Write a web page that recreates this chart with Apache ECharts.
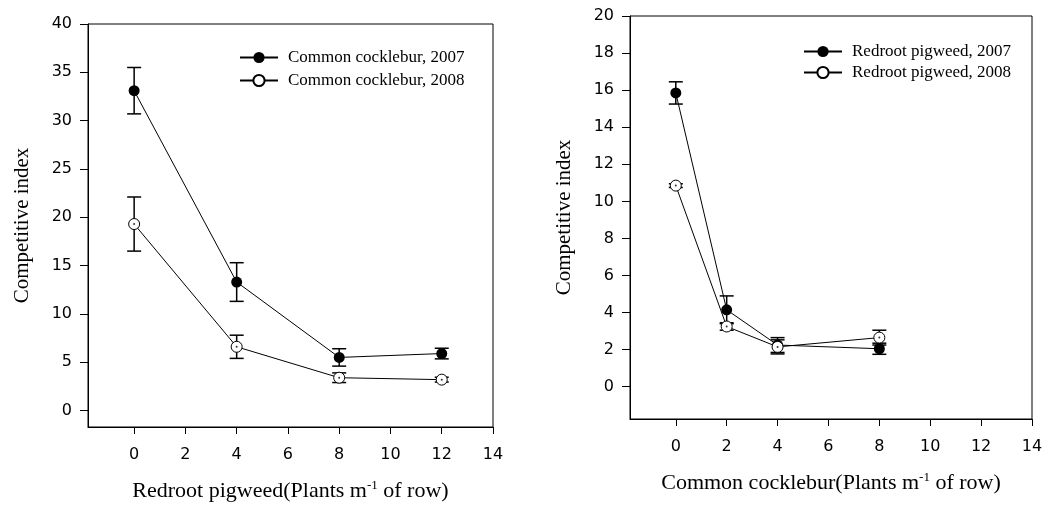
<!DOCTYPE html>
<html>
<head>
<meta charset="utf-8">
<script src="https://cdn.jsdelivr.net/npm/echarts@6/dist/echarts.min.js"></script>
<style>html,body{margin:0;padding:0;background:#fff}#c{width:1048px;height:508px}</style>
</head>
<body>
<div id="c"></div>
<script>
// ---- Data ----
const leftX = [0, 4, 8, 12];
const left2007 = [33.1, 13.3, 5.5, 5.9];
const left2007Err = [2.4, 2.0, 0.9, 0.55];
const left2008 = [19.3, 6.6, 3.4, 3.2];
const left2008Err = [2.8, 1.2, 0.5, 0.25];

const rightX = [0, 2, 4, 8];
const right2007 = [15.85, 4.15, 2.25, 2.05];
const right2007Err = [0.6, 0.75, 0.4, 0.3];
const right2008 = [10.85, 3.25, 2.15, 2.65];
const right2008Err = [0.1, 0.2, 0.38, 0.4];

const xTicks = [0, 2, 4, 6, 8, 10, 12, 14];
const leftYTicks = [0, 5, 10, 15, 20, 25, 30, 35, 40];
const rightYTicks = [0, 2, 4, 6, 8, 10, 12, 14, 16, 18, 20];

const leftNames = ['Common cocklebur, 2007', 'Common cocklebur, 2008'];
const rightNames = ['Redroot pigweed, 2007', 'Redroot pigweed, 2008'];
const yTitle = 'Competitive index';
const leftXTitle = 'Redroot pigweed(Plants m{sup|-1} of row)';
const rightXTitle = 'Common cocklebur(Plants m{sup|-1} of row)';

// ---- Helpers ----
const SERIF = '"Liberation Serif","Times New Roman",serif';
const SANS = '"DejaVu Sans",Arial,sans-serif';

function pairs(xs, ys) { return xs.map((x, i) => [x, ys[i]]); }

function errSeries(xs, ys, errs, ai) {
  return {
    type: 'custom', xAxisIndex: ai, yAxisIndex: ai, z: 1, silent: true,
    data: xs.map((x, i) => [x, ys[i] - errs[i], ys[i] + errs[i]]),
    encode: { x: 0, y: [1, 2] },
    renderItem: function (params, api) {
      const lo = api.coord([api.value(0), api.value(1)]);
      const hi = api.coord([api.value(0), api.value(2)]);
      const hw = 7;
      const st = { stroke: '#000', lineWidth: 1.5 };
      return { type: 'group', children: [
        { type: 'line', shape: { x1: lo[0], y1: lo[1], x2: hi[0], y2: hi[1] }, style: st },
        { type: 'line', shape: { x1: lo[0] - hw, y1: lo[1], x2: lo[0] + hw, y2: lo[1] }, style: st },
        { type: 'line', shape: { x1: hi[0] - hw, y1: hi[1], x2: hi[0] + hw, y2: hi[1] }, style: st }
      ]};
    }
  };
}

function lineSeries(name, xs, ys, ai, filled, z) {
  return {
    name: name, type: 'line', xAxisIndex: ai, yAxisIndex: ai, z: z,
    data: pairs(xs, ys), symbol: 'circle', symbolSize: 11,
    lineStyle: { color: '#000', width: 1 },
    itemStyle: filled ? { color: '#000' } : { color: '#fff', borderColor: '#000', borderWidth: 1 },
    emphasis: { disabled: true }, animation: false
  };
}

function dotSeries(xs, ys, ai) {
  return {
    type: 'scatter', xAxisIndex: ai, yAxisIndex: ai, z: 5, silent: true,
    data: pairs(xs, ys), symbolSize: 2, itemStyle: { color: '#000' }
  };
}

function xAxisCfg(gi, title, gap) {
  return {
    type: 'value', gridIndex: gi, min: -1.8, max: 14,
    axisLine: { show: true, onZero: false, lineStyle: { color: '#000', width: 1 } },
    axisTick: { show: true, length: 7, customValues: xTicks, lineStyle: { color: '#000' } },
    axisLabel: { customValues: xTicks, margin: 20, color: '#000', fontFamily: SANS, fontSize: 16 },
    splitLine: { show: false },
    name: title, nameLocation: 'middle', nameGap: gap,
    nameTextStyle: { color: '#000', fontFamily: SERIF, fontSize: 22,
      rich: { sup: { fontSize: 13, fontFamily: SERIF, color: '#000', padding: [0, 0, 12, 0] } } }
  };
}

function yAxisCfg(gi, min, max, ticks) {
  return {
    type: 'value', gridIndex: gi, min: min, max: max,
    axisLine: { show: true, onZero: false, lineStyle: { color: '#000', width: 1 } },
    axisTick: { show: true, length: 8, customValues: ticks, lineStyle: { color: '#000' } },
    axisLabel: { customValues: ticks, margin: 16, color: '#000', fontFamily: SANS, fontSize: 16 },
    splitLine: { show: false },
    name: yTitle, nameLocation: 'middle', nameGap: 55, nameRotate: 90,
    nameTextStyle: { color: '#000', fontFamily: SERIF, fontSize: 21 }
  };
}

function legendCfg(names, left, top, gap) {
  return {
    data: names, orient: 'vertical', left: left, top: top, padding: 0,
    itemWidth: 38, itemHeight: 14, itemGap: gap, selectedMode: false,
    textStyle: { color: '#000', fontFamily: SERIF, fontSize: 17, padding: [0, 0, 0, 5] }
  };
}

const chart = echarts.init(document.getElementById('c'), null, { renderer: 'canvas' });
chart.setOption({
  animation: false,
  backgroundColor: '#fff',
  grid: [
    { left: 88, top: 24, width: 405, height: 403, outerBoundsMode: 'none', show: true, borderColor: '#000', borderWidth: 1, backgroundColor: 'transparent' },
    { left: 630, top: 16, width: 402, height: 403, outerBoundsMode: 'none', show: true, borderColor: '#000', borderWidth: 1, backgroundColor: 'transparent' }
  ],
  xAxis: [xAxisCfg(0, leftXTitle, 52), xAxisCfg(1, rightXTitle, 52)],
  yAxis: [yAxisCfg(0, -1.7, 40, leftYTicks), yAxisCfg(1, -1.74, 20, rightYTicks)],
  legend: [legendCfg(leftNames, 239, 49, 6), legendCfg(rightNames, 803, 43, 4)],
  series: [
    errSeries(leftX, left2007, left2007Err, 0),
    errSeries(leftX, left2008, left2008Err, 0),
    lineSeries(leftNames[0], leftX, left2007, 0, true, 2),
    lineSeries(leftNames[1], leftX, left2008, 0, false, 3),
    dotSeries(leftX, left2008, 0),
    errSeries(rightX, right2007, right2007Err, 1),
    errSeries(rightX, right2008, right2008Err, 1),
    lineSeries(rightNames[0], rightX, right2007, 1, true, 2),
    lineSeries(rightNames[1], rightX, right2008, 1, false, 3),
    dotSeries(rightX, right2008, 1)
  ]
});
</script>
</body>
</html>
